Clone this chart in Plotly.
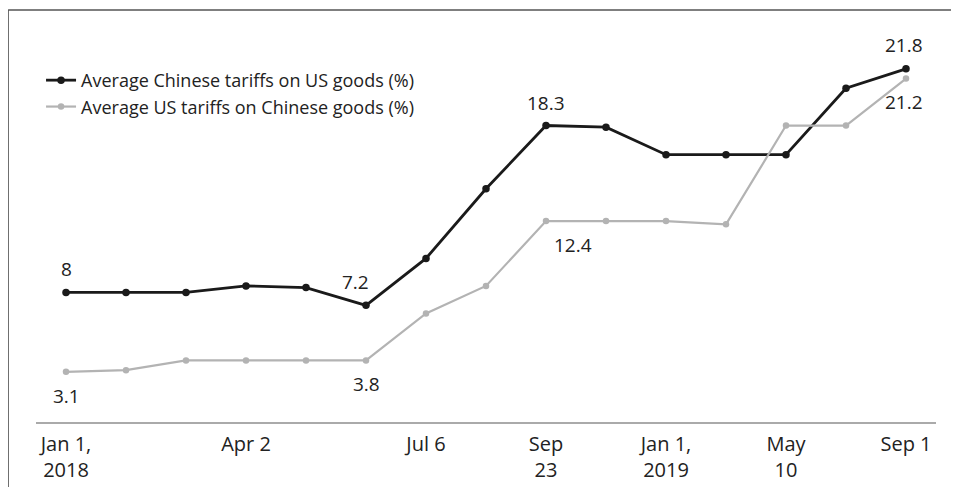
import plotly.graph_objects as go

# 15 evenly spaced observations, Jan 2018 - Sep 2019
periods = list(range(15))
tick_positions = [0, 3, 6, 8, 10, 12, 14]
tick_labels = ["Jan 1,<br>2018", "Apr 2", "Jul 6", "Sep<br>23", "Jan 1,<br>2019", "May<br>10", "Sep 1"]

china_on_us = [8.0, 8.0, 8.0, 8.4, 8.3, 7.2, 10.1, 14.4, 18.3, 18.2, 16.5, 16.5, 16.5, 20.6, 21.8]
us_on_china = [3.1, 3.2, 3.8, 3.8, 3.8, 3.8, 6.7, 8.4, 12.4, 12.4, 12.4, 12.2, 18.3, 18.3, 21.2]

# (index, xshift, yshift) for the value labels
china_labels = [(0, 0, 23), (5, -11, 23), (8, 0, 23), (14, -2, 24)]
us_labels = [(0, 0, -24), (5, 0, -24), (8, 27, -24), (14, -2, -23)]

FONT = "Open Sans"

fig = go.Figure()

fig.add_trace(go.Scatter(
    x=periods, y=china_on_us,
    mode="lines+markers",
    name="Average Chinese tariffs on US goods (%)",
    line=dict(color="#1a1a1a", width=2.8),
    marker=dict(size=7.5, color="#1a1a1a"),
))
fig.add_trace(go.Scatter(
    x=periods, y=us_on_china,
    mode="lines+markers",
    name="Average US tariffs on Chinese goods (%)",
    line=dict(color="#b3b3b3", width=2.2),
    marker=dict(size=6.5, color="#b3b3b3"),
))

for i, dx, dy in china_labels:
    v = china_on_us[i]
    fig.add_annotation(x=periods[i], y=v, text=f"{v:g}", showarrow=False,
                       xshift=dx, yshift=dy, font=dict(size=19, color="#222"))
for i, dx, dy in us_labels:
    v = us_on_china[i]
    fig.add_annotation(x=periods[i], y=v, text=f"{v:g}", showarrow=False,
                       xshift=dx, yshift=dy, font=dict(size=19, color="#222"))

# frame of the original figure: only its top and left edges are in view
fig.add_shape(type="line", xref="paper", yref="paper",
              x0=-0.031, x1=1.5, y0=1.017, y1=1.017,
              line=dict(color="#555", width=1.5))
fig.add_shape(type="line", xref="paper", yref="paper",
              x0=-0.031, x1=-0.031, y0=-0.5, y1=1.017,
              line=dict(color="#555", width=1.5))

# the page body adds an 8px margin, so the figure is sized to fit the window
fig.update_layout(
    width=943, height=479,
    margin=dict(l=28, r=15, t=9, b=65),
    plot_bgcolor="white", paper_bgcolor="white",
    font=dict(family=FONT, size=19, color="#222"),
    showlegend=True,
    legend=dict(x=0.0056, y=0.889, xanchor="left", yanchor="top",
                bgcolor="rgba(0,0,0,0)", font=dict(size=18),
                tracegroupgap=0, itemwidth=30),
    xaxis=dict(
        range=[-0.5, 14.5], automargin=False,
        tickmode="array", tickvals=tick_positions, ticktext=tick_labels,
        showgrid=False, zeroline=False,
        showline=True, linecolor="#aaaaaa", linewidth=1.5,
        ticks="outside", ticklen=3, tickcolor="rgba(0,0,0,0)",
        tickfont=dict(size=20),
    ),
    yaxis=dict(
        range=[0, 25], automargin=False,
        showgrid=False, zeroline=False, showline=False,
        showticklabels=False, ticks="",
    ),
)

fig.write_html("out.html")
